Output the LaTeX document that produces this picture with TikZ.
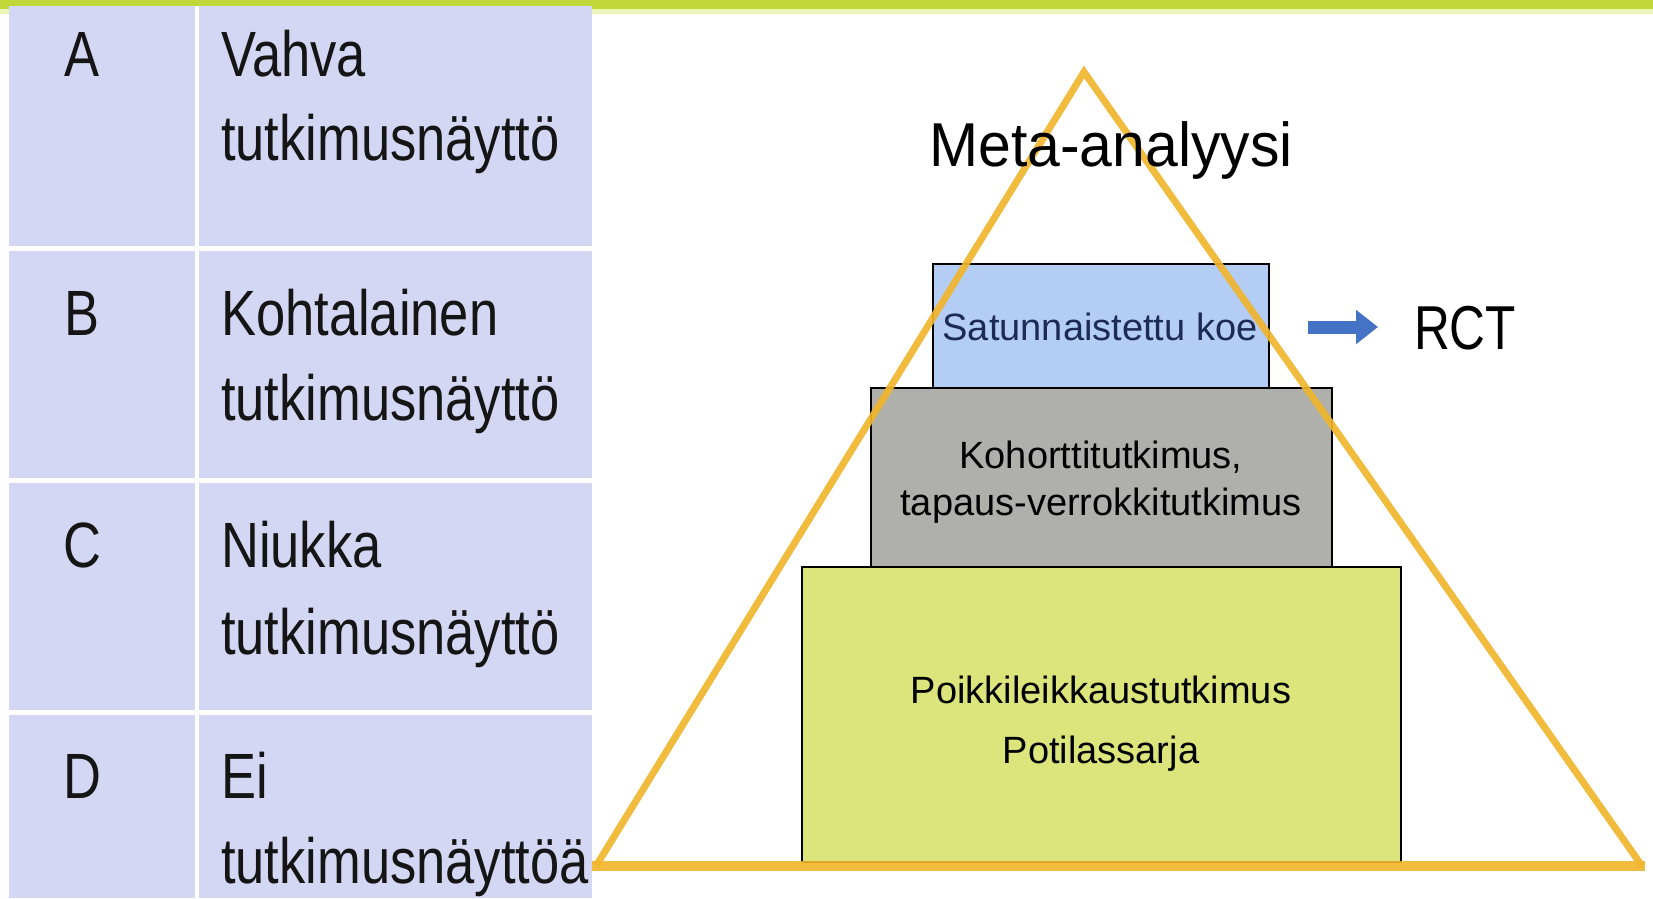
\documentclass[tikz,border=0pt]{standalone}
\usepackage{fontspec}
\usetikzlibrary{arrows.meta}
\newfontfamily\tabfont[FakeStretch=0.82]{Liberation Sans}
\newfontfamily\metafont[FakeStretch=0.95]{Liberation Sans}
\newfontfamily\rctfont[FakeStretch=0.80]{Liberation Sans}
\newfontfamily\boxfont{Liberation Sans}
\definecolor{tabfill}{HTML}{D3D7F3}
\definecolor{topbar}{HTML}{C2D83A}
\definecolor{topbarlight}{HTML}{EEF5B8}
\definecolor{tri}{HTML}{F0B52C}
\definecolor{bluebox}{HTML}{B3CDF5}
\definecolor{graybox}{HTML}{AFAFAB}
\definecolor{greenbox}{HTML}{DBE57B}
\definecolor{navytext}{HTML}{1C2A55}
\definecolor{arrowblue}{HTML}{4472C4}
\definecolor{tabtext}{HTML}{151515}
\tikzset{
  letter/.style={anchor=base, inner sep=0pt, text=tabtext, font=\tabfont\fontsize{64}{70}\selectfont},
  cell/.style={anchor=base west, inner sep=0pt, text=tabtext, font=\tabfont\fontsize{64}{70}\selectfont},
  level/.style={draw=black, line width=2pt},
  boxtext/.style={inner sep=0pt, anchor=base, font=\boxfont\fontsize{38}{44}\selectfont},
  bigtext/.style={inner sep=0pt, anchor=base, font=\metafont\fontsize{62}{70}\selectfont},
  rcttext/.style={inner sep=0pt, anchor=base, font=\rctfont\fontsize{62}{70}\selectfont},
}
\begin{document}
\begin{tikzpicture}[x=1pt,y=-1pt]
\useasboundingbox (0,0) rectangle (1653,898);
% top bar
\fill[topbarlight] (0,9) rectangle (1653,14);
\fill[topbar] (0,0) rectangle (1653,9);
% table
\fill[tabfill] (9,6) rectangle (592,898);
\draw[white, line width=4pt] (197,6) -- (197,898);
\foreach \yy in {248,480,712} \draw[white, line width=5pt] (9,\yy) -- (592,\yy);
\node[letter] (lA) at (82,76) {A};
\node[letter] (lB) at (82,335) {B};
\node[letter] (lC) at (82,567) {C};
\node[letter] (lD) at (82,798) {D};
\node[cell] (tA1) at (221,76) {Vahva};
\node[cell] (tA2) at (221,160) {tutkimusnäyttö};
\node[cell] (tB1) at (221,335) {Kohtalainen};
\node[cell] (tB2) at (221,420) {tutkimusnäyttö};
\node[cell] (tC1) at (221,567) {Niukka};
\node[cell] (tC2) at (221,654) {tutkimusnäyttö};
\node[cell] (tD1) at (221,798) {Ei};
\node[cell] (tD2) at (221,883) {tutkimusnäyttöä};
% pyramid levels
\filldraw[level, fill=greenbox] (802,567) rectangle (1401,862);
\filldraw[level, fill=graybox] (871,388) rectangle (1332,567);
\filldraw[level, fill=bluebox] (933,264) rectangle (1269,388);
\node[boxtext, text=navytext] (rct) at (1100,340) {Satunnaistettu koe};
\node[boxtext] (coh1) at (1101,468) {Kohorttitutkimus,};
\node[boxtext] (coh2) at (1101,515) {tapaus-verrokkitutkimus};
\node[boxtext] (poi1) at (1101,703) {Poikkileikkaustutkimus};
\node[boxtext] (poi2) at (1101,763) {Potilassarja};
% triangle
\draw[tri, line width=7pt, line join=miter, opacity=0.92] (596,866) -- (1084,72) -- (1642,866);
\draw[tri, line width=10pt, opacity=0.92] (592,866) -- (1645,866);
% labels
\node[bigtext] (meta) at (1111,166) {Meta-analyysi};
\node[rcttext] (rctl) at (1465,349) {RCT};
% arrow
\coordinate (arrS) at (1308,327);
\coordinate (arrE) at (1378,327);
\draw[arrowblue, line width=13pt, -{Triangle[length=22pt,width=33pt]}] (arrS) -- (arrE);
\end{tikzpicture}
\end{document}
